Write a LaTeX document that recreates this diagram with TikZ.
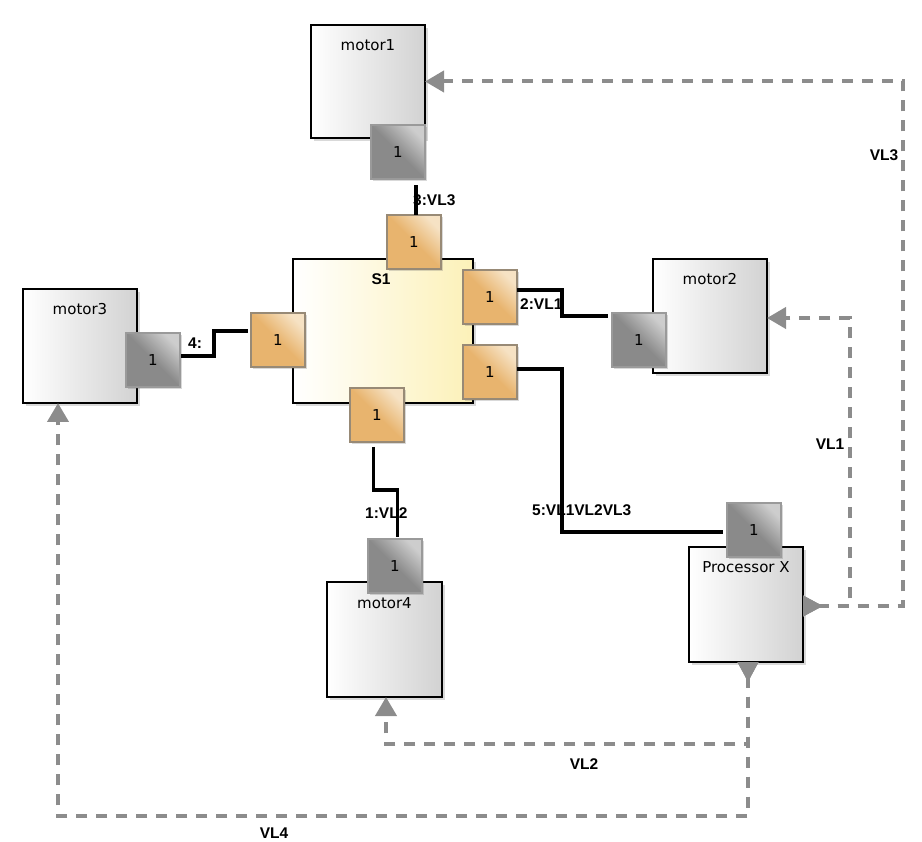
\documentclass[tikz,border=0pt]{standalone}
\usepackage{fontspec}
\setmainfont{DejaVu Sans}
\newfontfamily\boldlab{Liberation Sans}[BoldFont={Liberation Sans Bold}]
\usetikzlibrary{arrows.meta,shadows,calc}
\definecolor{portO}{HTML}{E8B46E}
\definecolor{portOl}{HTML}{F6E2C4}
\definecolor{portOb}{HTML}{988A76}
\definecolor{portG}{HTML}{8A8A8A}
\definecolor{portGl}{HTML}{CDCDCD}
\definecolor{portGb}{HTML}{9A9A9A}
\definecolor{boxR}{HTML}{D2D2D2}
\definecolor{sY}{HTML}{FCF1B8}
\definecolor{dashG}{HTML}{8C8C8C}
\tikzset{
  boxshape/.style={draw=black, line width=2.2pt, rectangle, inner sep=0pt, outer sep=0pt,
    anchor=north west, drop shadow={shadow xshift=3pt, shadow yshift=-3pt, opacity=0.25, fill=black!60}},
  motorbox/.style={boxshape, left color=white, right color=boxR},
  switchbox/.style={boxshape, left color=white, right color=sY},
  portbase/.style={rectangle, inner sep=0pt, outer sep=0pt, anchor=north west, line width=1.2pt,
    minimum width=54pt, minimum height=54pt, font=\fontsize{15}{15}\selectfont,
    drop shadow={shadow xshift=2pt, shadow yshift=-2pt, opacity=0.25, fill=black!60}},
  oport/.style={portbase, draw=portOb, top color=portOl, bottom color=portO, middle color=portO, shading angle=-45},
  gport/.style={portbase, draw=portGb, top color=portGl, bottom color=portG, middle color=portG, shading angle=-45},
  boxlabel/.style={font=\fontsize{15}{15}\selectfont, inner sep=0pt},
  wlabel/.style={font=\boldlab\bfseries\fontsize{15.5}{15.5}\selectfont, inner sep=0pt},
  wire/.style={line width=3.6pt, black},
  vl/.style={line width=4pt, dashG, dash pattern=on 11pt off 9pt,
    {Triangle[reversed,length=20pt,width=20pt]}-{Triangle[length=19pt,width=21pt]}},
}
\begin{document}
\begin{tikzpicture}[x=1pt,y=-1pt]
\useasboundingbox (0,0) rectangle (922,842);
% boxes
\node[motorbox, minimum width=114pt, minimum height=113pt] (m1) at (311,25) {};
\node[switchbox, minimum width=180pt, minimum height=144pt] (s1) at (293,259) {};
\node[motorbox, minimum width=114pt, minimum height=114pt] (m3) at (23,289) {};
\node[motorbox, minimum width=114pt, minimum height=114pt] (m2) at (653,259) {};
\node[motorbox, minimum width=114pt, minimum height=115pt] (px) at (689,547) {};
\node[motorbox, minimum width=115pt, minimum height=115pt] (m4) at (327,582) {};
% box labels
\node[boxlabel] (m1t) at ([yshift=-20pt]m1.north) {motor1};
\node[boxlabel] (m3t) at ([yshift=-20pt]m3.north) {motor3};
\node[boxlabel] (m2t) at ([yshift=-20pt]m2.north) {motor2};
\node[boxlabel] (pxt) at ([yshift=-20pt]px.north) {Processor X};
\node[boxlabel] (m4t) at ([yshift=-21pt]m4.north) {motor4};
\node[wlabel] (s1t0) at ([xshift=-2pt,yshift=-20pt]s1.north) {S1};
% ports
\node[gport] (m1p) at (371,125) {1};
\node[oport] (s1t) at (387,215) {1};
\node[oport] (s1r1) at (463,270) {1};
\node[oport] (s1r2) at (463,345) {1};
\node[oport] (s1l) at (251,313) {1};
\node[oport] (s1b) at (350,388) {1};
\node[gport] (m3p) at (126,333) {1};
\node[gport] (m2p) at (612,313) {1};
\node[gport] (pxp) at (727,503) {1};
\node[gport] (m4p) at (368,539) {1};
% wire labels
\node[wlabel, anchor=west] (l3) at (413,200) {3:VL3};
\node[wlabel, anchor=west] (l4) at (188,343) {4:};
\node[wlabel, anchor=west] (l2) at (520,304) {2:VL1};
\node[wlabel, anchor=west] (l5) at (532,510) {5:VL1VL2VL3};
\node[wlabel, anchor=west] (l1) at (365,513) {1:VL2};
% wires
\draw[wire] ([xshift=2pt]s1t.north) -- ++(0,-30);
\draw[wire] ([xshift=1pt,yshift=4pt]m3p.east) -- ++(33,0) |- ([xshift=-3pt,yshift=9pt]s1l.west);
\draw[wire] ([yshift=7pt]s1r1.east) -- ++(45,0) |- ([xshift=-4pt,yshift=24pt]m2p.west);
\draw[wire] ([yshift=3pt]s1r2.east) -- ++(45,0) |- ([xshift=-4pt,yshift=-2pt]pxp.west);
\draw[wire] ([xshift=-3.5pt,yshift=-5pt]s1b.south) -- ++(0,43) -| ([xshift=2.5pt,yshift=2pt]m4p.north);
% virtual links
\draw[vl] ([yshift=-1.5pt]px.east) -- ++(100,0) |- (m1.east);
\draw[vl] ([yshift=-1.5pt]px.east) -- ++(47,0) |- ([yshift=-2pt]m2.east);
\draw[vl] ([xshift=2pt]px.south) -- ++(0,82) -| ([xshift=1.5pt]m4.south);
\draw[vl] ([xshift=2pt]px.south) -- ++(0,154) -| ([xshift=-22pt]m3.south);
% virtual link labels
\node[wlabel] (vl3) at (884,155) {VL3};
\node[wlabel] (vl1) at (830,444) {VL1};
\node[wlabel] (vl2) at (584,764) {VL2};
\node[wlabel] (vl4) at (274,833) {VL4};
\end{tikzpicture}
\end{document}
